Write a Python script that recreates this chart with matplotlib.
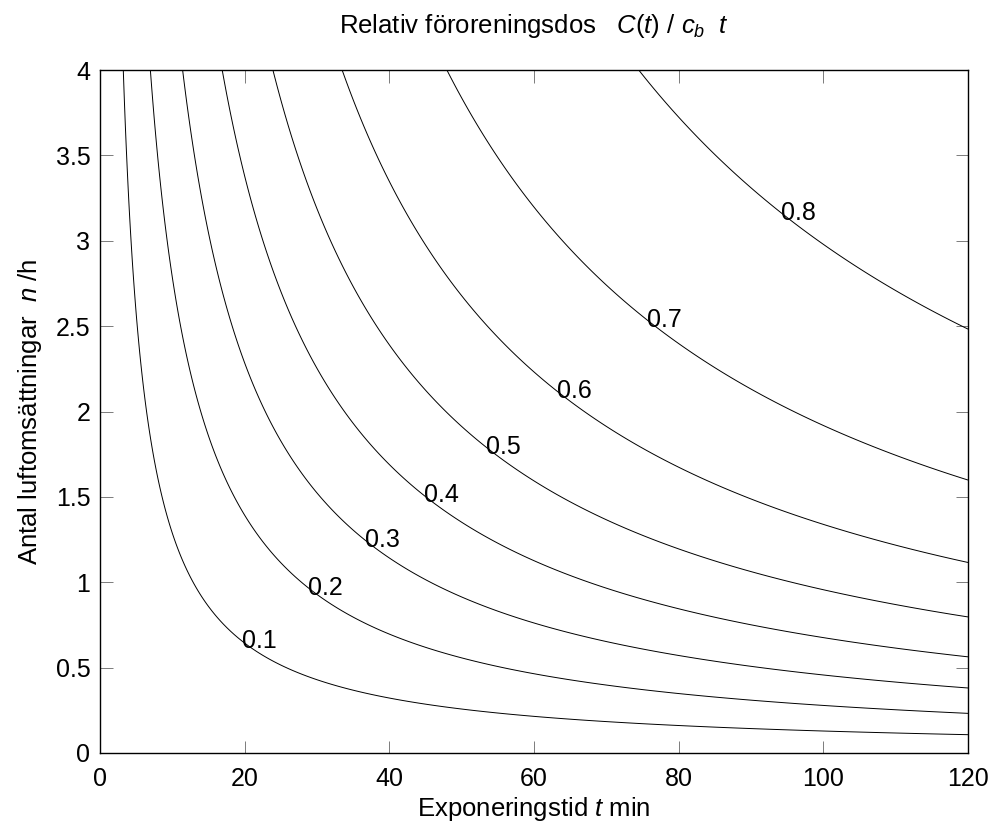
import numpy as np
import matplotlib
matplotlib.use('Agg')
import matplotlib.pyplot as plt

plt.rcParams['font.family'] = ['Liberation Sans', 'DejaVu Sans']
plt.rcParams['mathtext.fontset'] = 'custom'
plt.rcParams['mathtext.it'] = 'Liberation Sans:italic'
plt.rcParams['mathtext.rm'] = 'Liberation Sans'

# exponeringstid (min) och luftomsättningar (1/h)
t_min = np.linspace(0.01, 120, 241)
n_per_h = np.linspace(0.01, 4, 200)
levels = [0.1, 0.2, 0.3, 0.4, 0.5, 0.6, 0.7, 0.8]
# ungefärliga platser för nivåetiketterna (t, n)
label_pos = [(19.6, 0.66), (28.8, 0.97), (36.9, 1.26), (44.9, 1.52),
             (53.5, 1.80), (63.3, 2.13), (75.8, 2.55), (94.3, 3.17)]

T, N = np.meshgrid(t_min, n_per_h)
x = N * T / 60.0
dos = 1 - (1 - np.exp(-x)) / x

fig = plt.figure(figsize=(9.94, 8.23), dpi=100)
ax = fig.add_axes([100 / 994, 70 / 823, 868 / 994, 683 / 823])
cs = ax.contour(T, N, dos, levels=levels, colors='k', linewidths=0.7)
txts = ax.clabel(cs, levels, inline=False, fontsize=18, fmt='%.1f',
                 manual=label_pos)
for tx in txts:
    tx.set_rotation(0)
    tx.set_ha('left')
    tx.set_va('center')

ax.set_xlim(0, 120)
ax.set_ylim(0, 4)
ax.set_xticks([0, 20, 40, 60, 80, 100, 120])
ax.set_yticks([0, 0.5, 1, 1.5, 2, 2.5, 3, 3.5, 4])
ax.set_yticklabels(['0', '0.5', '1', '1.5', '2', '2.5', '3', '3.5', '4'])
ax.tick_params(direction='in', length=9, width=0.6, labelsize=18,
               top=True, right=True, color='0.4')
ax.tick_params(axis='x', pad=10)
ax.tick_params(axis='y', pad=7)
for s in ax.spines.values():
    s.set_linewidth(1.0)

ax.set_title(r'Relativ föroreningsdos   $\mathit{C(t)\ /\ c_{b}\ \ t}$',
             fontsize=18.5, pad=27)
ax.set_xlabel(r'Exponeringstid $t$ min', fontsize=18.5, labelpad=3)
ax.set_ylabel(r'Antal luftomsättningar  $n$ /h', fontsize=18.5, labelpad=8)

fig.savefig('out.png', dpi=100)
